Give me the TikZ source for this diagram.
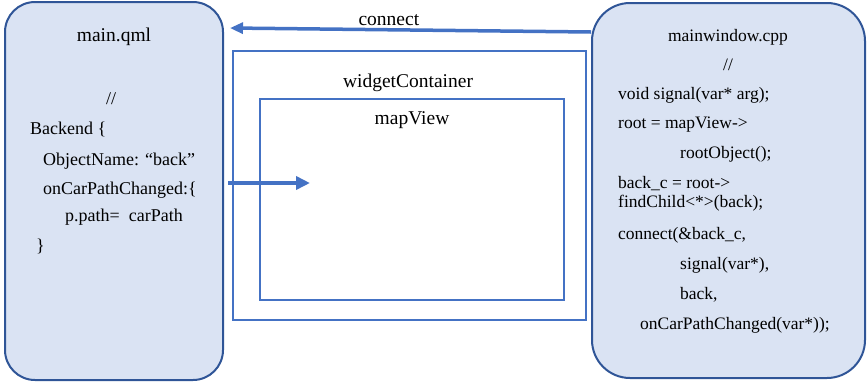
\documentclass[tikz,border=0pt]{standalone}
\usepackage{fontspec}
\setmainfont{Liberation Serif}
\usetikzlibrary{calc,positioning,arrows.meta}
\definecolor{boxfill}{HTML}{DAE3F3}
\definecolor{boxline}{HTML}{2F5597}
\definecolor{frameblue}{HTML}{4472C4}

\begin{document}
\begin{tikzpicture}[x=1pt,y=-1pt,
  codebox/.style={draw=boxline,fill=boxfill,line width=2pt,inner sep=0pt},
  framebox/.style={draw=frameblue,line width=2pt,inner sep=0pt},
  qmltext/.style={anchor=base west,inner sep=0pt,font=\fontsize{18}{22}\selectfont},
  cpptext/.style={anchor=base west,inner sep=0pt,font=\fontsize{17.5}{21}\selectfont},
  title/.style={anchor=base,inner sep=0pt,font=\fontsize{19.5}{23}\selectfont},
  link/.style={draw=frameblue,line width=3.5pt}]

    \useasboundingbox (0,0) rectangle (867,381);

    %Blocs
    \node[codebox,rounded corners=30pt,minimum width=218pt,minimum height=378pt] (qml) at (114,191) {};
    \node[codebox,rounded corners=38pt,minimum width=273pt,minimum height=375pt] (cpp) at (728.5,190.5) {};
    \node[framebox,minimum width=353pt,minimum height=269pt] (container) at (409.5,185.5) {};
    \node[framebox,minimum width=304pt,minimum height=201pt] (mapview) at (412,199.5) {};

    %Titres
    \node[title] (qmlname) at (114,41) {main.qml};
    \node[title] (containername) at (408,87) {widgetContainer};
    \node[title] (mapname) at (412,124) {mapView};
    \node[title,font=\fontsize{17.5}{21}\selectfont] (cppname) at (728,41) {mainwindow.cpp};

    %Code qml
    \node[title,font=\fontsize{18}{22}\selectfont] (qmlslash) at (111,104) {//};
    \node[qmltext] (backend) at (30,134) {Backend \{};
    \node[qmltext] (objname) at (43,165) {ObjectName: “back”};
    \node[qmltext] (onchanged) at (43,194) {onCarPathChanged:\{};
    \node[qmltext] (ppath) at (65,221) {p.path=\ \ carPath};
    \node[qmltext] (qmlclose) at (36,251) {\}};

    %Code cpp
    \node[title,font=\fontsize{17.5}{21}\selectfont] (cppslash) at (728,70) {//};
    \node[cpptext] (signal) at (618,99) {void signal(var* arg);};
    \node[cpptext] (root) at (618,128) {root = mapView->};
    \node[cpptext] (rootobj) at (680,158) {rootObject();};
    \node[cpptext] (backc) at (618,188) {back\_c = root->};
    \node[cpptext] (findchild) at (618,207) {findChild<*>(back);};
    \node[cpptext] (connectcall) at (618,239) {connect(\&back\_c,};
    \node[cpptext] (signalarg) at (680,269) {signal(var*),};
    \node[cpptext] (backarg) at (680,299) {back,};
    \node[cpptext] (slotarg) at (640,329) {onCarPathChanged(var*));};

    %Fleches
    \draw[link,-{Triangle[length=13pt,width=11pt]}] ($(cpp.north west)+(0,30)$) -- node[title,pos=0.56,yshift=4.5pt] (connectlabel) {connect} ($(qml.north east)+(6,27)$);
    \coordinate (hit) at (310,183);
    \draw[link,line width=4pt,-{Triangle[length=14pt,width=13pt]}] ($(qml.east)+(4,-8)$) -- (hit);

\end{tikzpicture}
\end{document}
